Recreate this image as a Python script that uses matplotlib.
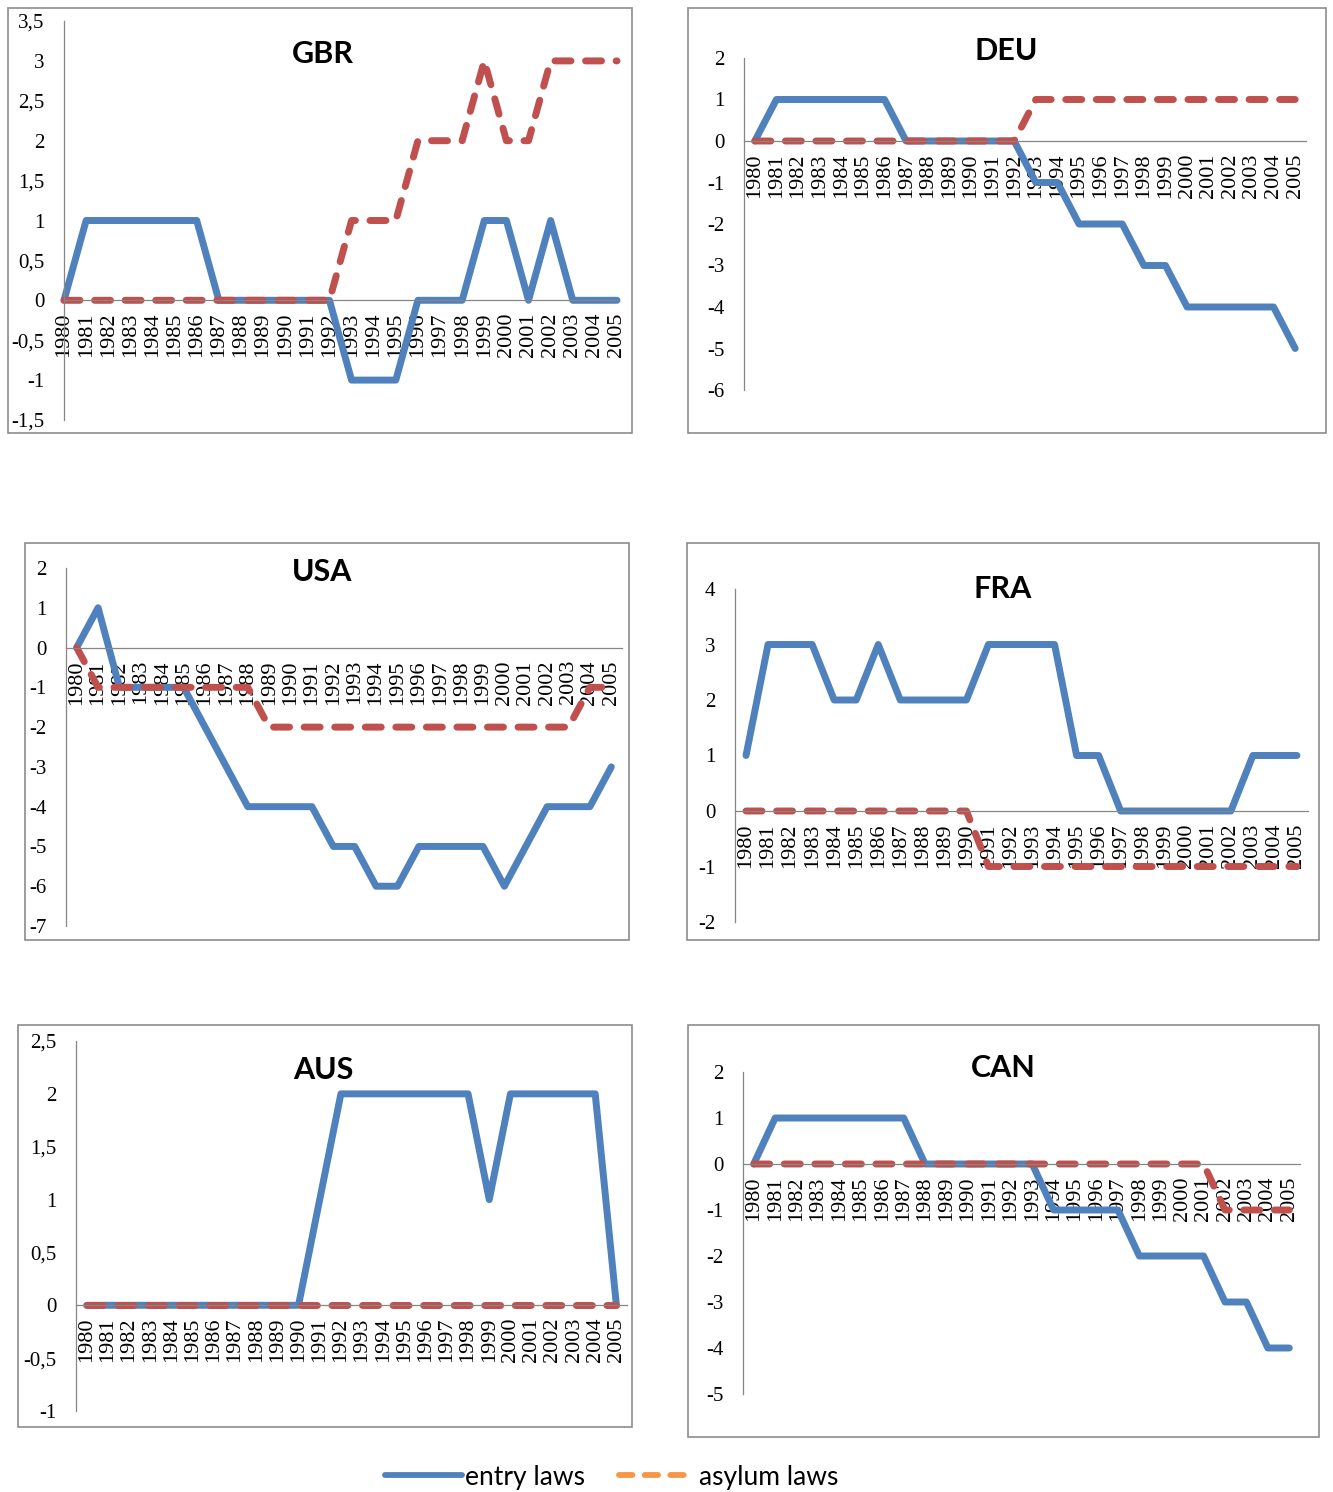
import numpy as np
import matplotlib.pyplot as plt
from matplotlib.patches import Rectangle
from matplotlib.lines import Line2D
from matplotlib.ticker import FixedLocator, FuncFormatter
plt.rcParams['axes.unicode_minus'] = False

W, H = 1333, 1492

years = list(range(1980, 2006))

gbr_entry = [0, 1, 1, 1, 1, 1, 1, 0, 0, 0, 0, 0, 0, -1, -1, -1, 0, 0, 0, 1, 1, 0, 1, 0, 0, 0]
gbr_asylum = [0, 0, 0, 0, 0, 0, 0, 0, 0, 0, 0, 0, 0, 1, 1, 1, 2, 2, 2, 3, 2, 2, 3, 3, 3, 3]
deu_entry = [0, 1, 1, 1, 1, 1, 1, 0, 0, 0, 0, 0, 0, -1, -1, -2, -2, -2, -3, -3, -4, -4, -4, -4, -4, -5]
deu_asylum = [0, 0, 0, 0, 0, 0, 0, 0, 0, 0, 0, 0, 0, 1, 1, 1, 1, 1, 1, 1, 1, 1, 1, 1, 1, 1]
usa_entry = [0, 1, -1, -1, -1, -1, -2, -3, -4, -4, -4, -4, -5, -5, -6, -6, -5, -5, -5, -5, -6, -5, -4, -4, -4, -3]
usa_asylum = [0, -1, -1, -1, -1, -1, -1, -1, -1, -2, -2, -2, -2, -2, -2, -2, -2, -2, -2, -2, -2, -2, -2, -2, -1, -1]
fra_entry = [1, 3, 3, 3, 2, 2, 3, 2, 2, 2, 2, 3, 3, 3, 3, 1, 1, 0, 0, 0, 0, 0, 0, 1, 1, 1]
fra_asylum = [0, 0, 0, 0, 0, 0, 0, 0, 0, 0, 0, -1, -1, -1, -1, -1, -1, -1, -1, -1, -1, -1, -1, -1, -1, -1]
aus_entry = [0, 0, 0, 0, 0, 0, 0, 0, 0, 0, 0, 1, 2, 2, 2, 2, 2, 2, 2, 1, 2, 2, 2, 2, 2, 0]
aus_asylum = [0, 0, 0, 0, 0, 0, 0, 0, 0, 0, 0, 0, 0, 0, 0, 0, 0, 0, 0, 0, 0, 0, 0, 0, 0, 0]
can_entry = [0, 1, 1, 1, 1, 1, 1, 1, 0, 0, 0, 0, 0, 0, -1, -1, -1, -1, -2, -2, -2, -2, -3, -3, -4, -4]
can_asylum = [0, 0, 0, 0, 0, 0, 0, 0, 0, 0, 0, 0, 0, 0, 0, 0, 0, 0, 0, 0, 0, 0, -1, -1, -1, -1]

countries = ['GBR', 'DEU', 'USA', 'FRA', 'AUS', 'CAN']
entry = [gbr_entry, deu_entry, usa_entry, fra_entry, aus_entry, can_entry]
asylum = [gbr_asylum, deu_asylum, usa_asylum, fra_asylum, aus_asylum, can_asylum]
y_min = [-1.5, -6, -7, -2, -1, -5]
y_max = [3.5, 2, 2, 4, 2.5, 2]
y_step = [0.5, 1, 1, 1, 0.5, 1]

# chart frames, plot areas (pixels: x0, top, x1, bottom) and title centres
frames = [(8, 8, 632, 433), (688, 8, 1326, 433), (25, 543, 629, 940),
          (687, 543, 1319, 940), (18, 1025, 632, 1427), (688, 1025, 1319, 1437)]
areas = [(64, 21, 617, 420), (744, 58, 1306, 390), (66, 568, 622, 926),
         (735, 589, 1308, 922), (76, 1041, 627, 1411), (743, 1072, 1300, 1394)]
titles = [(323, 54), (1006, 51), (322, 572), (1003, 589), (323, 1070), (1003, 1068)]
between = [False, True, True, True, True, True]

BLUE = '#4F81BD'
RED = '#C0504D'
ORANGE = '#F79646'
GREY = '#868686'
LW = 5.0
DASH = (0, (2.3, 2.1))


def fig_rect(x0, y0, x1, y1):
    return [x0 / W, 1 - y1 / H, (x1 - x0) / W, (y1 - y0) / H]


def fmt(v, pos):
    s = ('%g' % v).replace('.', ',')
    return s


fig = plt.figure(figsize=(W / 100, H / 100), dpi=100)

for i, name in enumerate(countries):
    fx0, fy0, fx1, fy1 = frames[i]
    fig.patches.append(Rectangle((fx0 / W, 1 - fy1 / H), (fx1 - fx0) / W, (fy1 - fy0) / H,
                                 transform=fig.transFigure, fill=False,
                                 edgecolor='#8c8c8c', linewidth=1.2))
    ax = fig.add_axes(fig_rect(*areas[i]))
    ax.patch.set_visible(False)

    ax.plot(years, entry[i], color=BLUE, linewidth=LW, solid_capstyle='round',
            solid_joinstyle='round', clip_on=False)
    ax.plot(years, asylum[i], color=RED, linewidth=LW, linestyle=DASH,
            dash_capstyle='round', clip_on=False)

    if between[i]:
        ax.set_xlim(1979.5, 2005.5)
    else:
        ax.set_xlim(1980, 2005)
    ax.set_ylim(y_min[i], y_max[i])

    for s in ['top', 'right']:
        ax.spines[s].set_visible(False)
    ax.spines['bottom'].set_position(('data', 0))
    ax.spines['bottom'].set_color(GREY)
    ax.spines['bottom'].set_linewidth(0.9)
    ax.spines['left'].set_color(GREY)
    ax.spines['left'].set_linewidth(0.9)

    ax.set_xticks(years)
    ax.set_xticklabels([str(y) for y in years], rotation=90,
                       fontfamily='Liberation Serif', fontsize=16)
    ticks = np.arange(y_min[i], y_max[i] + y_step[i] / 2, y_step[i])
    ax.yaxis.set_major_locator(FixedLocator(ticks))
    ax.yaxis.set_major_formatter(FuncFormatter(fmt))
    for lab in ax.get_yticklabels():
        lab.set_fontfamily('Liberation Serif')
        lab.set_fontsize(15)
    ax.tick_params(axis='x', length=0, pad=9)
    ax.tick_params(axis='y', length=0, pad=14)

    tx, ty = titles[i]
    fig.text(tx / W, 1 - ty / H, name, ha='center', va='center',
             fontfamily='Lato', fontweight='bold', fontsize=22)

handles = [Line2D([], [], color=BLUE, linewidth=4.2, solid_capstyle='round'),
           Line2D([], [], color=ORANGE, linewidth=4.2, linestyle=DASH,
                  dash_capstyle='round')]
fig.legend(handles, ['entry laws', 'asylum laws'], loc='center',
           bbox_to_anchor=(612 / W, 1 - 1477 / H), ncol=2, frameon=False,
           prop={'family': 'Lato', 'size': 19}, handlelength=2.9,
           handletextpad=0.12, columnspacing=1.3)

fig.savefig('out.png', dpi=100, facecolor='white')
